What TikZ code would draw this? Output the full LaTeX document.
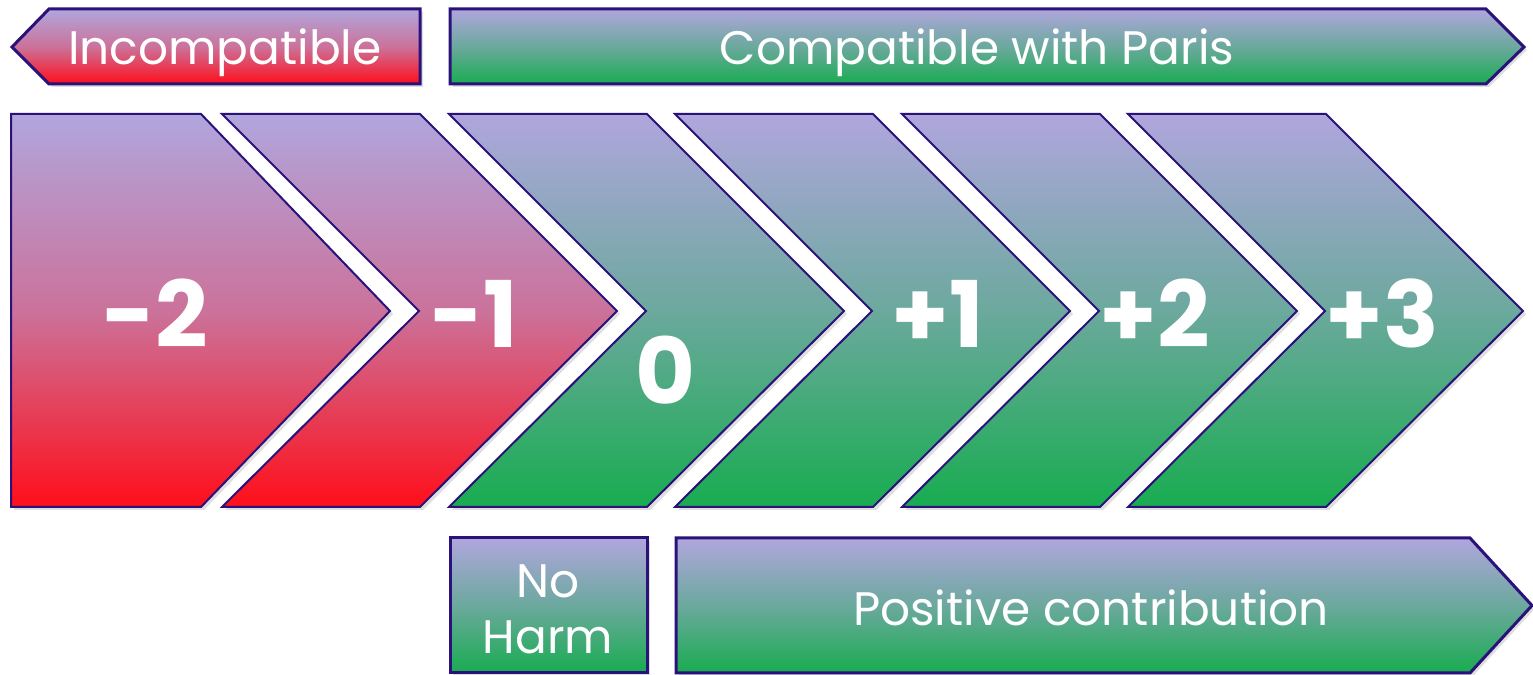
\documentclass[tikz,border=0pt]{standalone}
\usepackage{fontspec}
\setmainfont{Poppins}
\usetikzlibrary{shadows}

\definecolor{lav}{RGB}{176,166,221}
\definecolor{hotred}{RGB}{255,14,26}
\definecolor{leaf}{RGB}{24,172,80}
\definecolor{rim}{RGB}{42,18,122}

\tikzset{
  redfill/.style={top color=lav, bottom color=hotred, middle color=lav!66!hotred},
  greenfill/.style={top color=lav, bottom color=leaf, middle color=lav!55!leaf},
  softshadow/.style={drop shadow={opacity=0.25, shadow xshift=1.5pt, shadow yshift=-1.5pt}},
  banner/.style={draw=rim, line width=1.5pt, line join=miter, softshadow},
  chev/.style={draw=rim, line width=1pt, line join=miter, softshadow},
  bantext/.style={text=white, font=\fontsize{23.5}{28}\selectfont},
  num/.style={text=white, anchor=base, font=\fontsize{46}{50}\selectfont\bfseries},
}

\begin{document}
\begin{tikzpicture}[x=0.5pt,y=0.5pt]
  \useasboundingbox (0,0) rectangle (1533,675);

  % top banners
  \draw[banner,redfill] (12,628) -- (49,666) -- (420,666) -- (420,591) -- (49,591) -- cycle;
  \draw[banner,greenfill] (450,666) -- (1486,666) -- (1524,628) -- (1486,591) -- (450,591) -- cycle;
  \node[bantext, anchor=base] (incompat) at (225,610) {Incompatible};
  \node[bantext, anchor=base] (compat) at (977,610) {Compatible with Paris};

  % chevrons
  \draw[chev,redfill] (11,561) -- (201,561) -- (390,364) -- (201,168) -- (11,168) -- cycle;
  \foreach \l/\f in {222/redfill, 449/greenfill, 675/greenfill, 902/greenfill, 1128/greenfill}
    \draw[chev,\f] (\l,561) -- ++(198,0) -- ++(197,-197) -- ++(-197,-196) -- ++(-198,0) -- ++(197,196) -- cycle;

  \node[num] (mtwo) at (155,327) {-2};
  \node[num] (mone) at (474,327) {-1};
  \node[num] (zero) at (665,270) {0};
  \node[num] (pone) at (938,327) {+1};
  \node[num] (ptwo) at (1155,327) {+2};
  \node[num] (pthree) at (1382,327) {+3};

  % bottom boxes
  \draw[banner,greenfill] (450,137) rectangle (647,2);
  \draw[banner,greenfill] (676,137) -- (1470,137) -- (1532,69.5) -- (1470,2) -- (676,2) -- cycle;
  \node[bantext, align=center] (noharm) at (548,65.5) {No\\Harm};
  \node[bantext, anchor=base] (positive) at (1091,49) {Positive contribution};
\end{tikzpicture}
\end{document}
